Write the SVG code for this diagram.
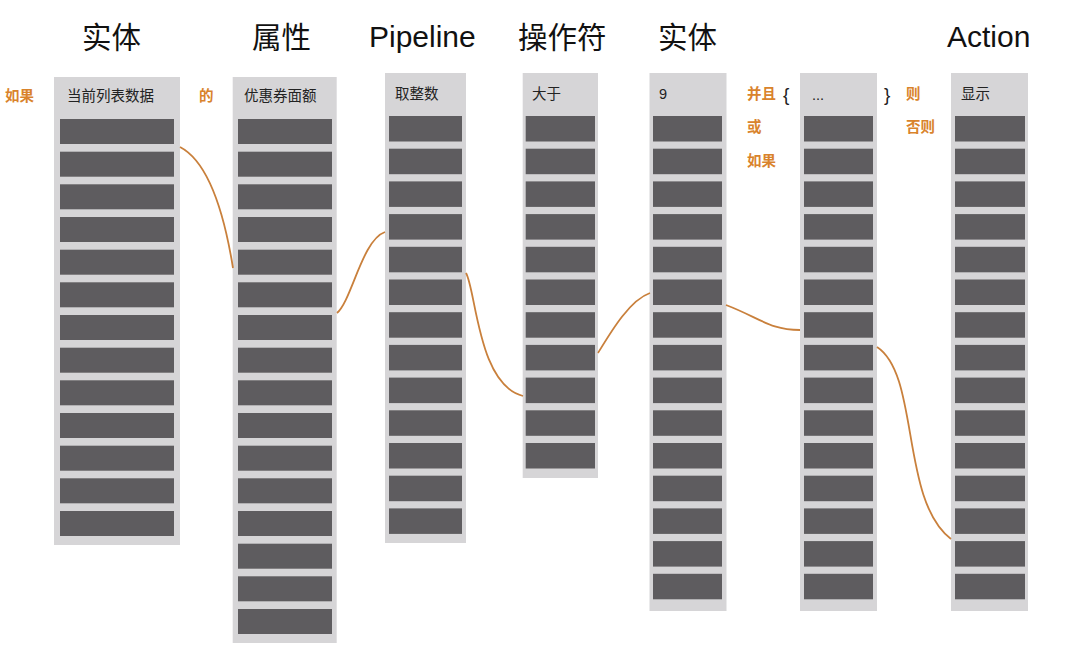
<svg xmlns="http://www.w3.org/2000/svg" width="1080" height="652" viewBox="0 0 1080 652">
<style>
text{font-family:"Liberation Sans","Noto Sans CJK SC",sans-serif;}
.title{font-size:29.5px;fill:#111;}
.lt{font-size:30px;}
.hd{font-size:14.5px;fill:#222;}
.kw{font-size:14.5px;fill:#d9832c;font-weight:bold;}
.br{font-size:19px;fill:#222;}
.col{fill:#d6d5d7;}
.bar{fill:#5e5c5f;}
.link{fill:none;stroke:#c9803c;stroke-width:1.8;}
</style>
<rect width="1080" height="652" fill="#ffffff"/>
<g id="titles">
<text class="title" x="82" y="48">实体</text>
<text class="title" x="252" y="48">属性</text>
<text class="title lt" x="369" y="47">Pipeline</text>
<text class="title" x="518" y="48">操作符</text>
<text class="title" x="658" y="48">实体</text>
<text class="title lt" x="947" y="47">Action</text>
</g>
<g id="keywords">
<text class="kw" x="5" y="101">如果</text>
<text class="kw" x="199" y="101">的</text>
<text class="kw" x="747" y="99">并且</text>
<text class="kw" x="747" y="132">或</text>
<text class="kw" x="747" y="166">如果</text>
<text class="br" x="783" y="101">{</text>
<text class="br" x="884" y="101">}</text>
<text class="kw" x="906" y="99">则</text>
<text class="kw" x="906" y="132">否则</text>
</g>
<g id="col-entity">
<rect class="col" x="54" y="77" width="126" height="468"/>
<text class="hd" x="67" y="101">当前列表数据</text>
<rect class="bar" x="60" y="119" width="114" height="25"/>
<rect class="bar" x="60" y="151.7" width="114" height="25"/>
<rect class="bar" x="60" y="184.3" width="114" height="25"/>
<rect class="bar" x="60" y="217" width="114" height="25"/>
<rect class="bar" x="60" y="249.7" width="114" height="25"/>
<rect class="bar" x="60" y="282.3" width="114" height="25"/>
<rect class="bar" x="60" y="315" width="114" height="25"/>
<rect class="bar" x="60" y="347.7" width="114" height="25"/>
<rect class="bar" x="60" y="380.3" width="114" height="25"/>
<rect class="bar" x="60" y="413" width="114" height="25"/>
<rect class="bar" x="60" y="445.7" width="114" height="25"/>
<rect class="bar" x="60" y="478.3" width="114" height="25"/>
<rect class="bar" x="60" y="511" width="114" height="25"/>
</g>
<g id="col-attribute">
<rect class="col" x="232.7" y="77" width="104" height="566"/>
<text class="hd" x="244" y="101">优惠券面额</text>
<rect class="bar" x="238" y="119" width="94" height="25"/>
<rect class="bar" x="238" y="151.7" width="94" height="25"/>
<rect class="bar" x="238" y="184.3" width="94" height="25"/>
<rect class="bar" x="238" y="217" width="94" height="25"/>
<rect class="bar" x="238" y="249.7" width="94" height="25"/>
<rect class="bar" x="238" y="282.3" width="94" height="25"/>
<rect class="bar" x="238" y="315" width="94" height="25"/>
<rect class="bar" x="238" y="347.7" width="94" height="25"/>
<rect class="bar" x="238" y="380.3" width="94" height="25"/>
<rect class="bar" x="238" y="413" width="94" height="25"/>
<rect class="bar" x="238" y="445.7" width="94" height="25"/>
<rect class="bar" x="238" y="478.3" width="94" height="25"/>
<rect class="bar" x="238" y="511" width="94" height="25"/>
<rect class="bar" x="238" y="543.7" width="94" height="25"/>
<rect class="bar" x="238" y="576.3" width="94" height="25"/>
<rect class="bar" x="238" y="609" width="94" height="25"/>
</g>
<g id="col-pipeline">
<rect class="col" x="385" y="73" width="81" height="470"/>
<text class="hd" x="395" y="99">取整数</text>
<rect class="bar" x="389" y="116" width="73" height="25.5"/>
<rect class="bar" x="389" y="148.7" width="73" height="25.5"/>
<rect class="bar" x="389" y="181.4" width="73" height="25.5"/>
<rect class="bar" x="389" y="214.1" width="73" height="25.5"/>
<rect class="bar" x="389" y="246.8" width="73" height="25.5"/>
<rect class="bar" x="389" y="279.5" width="73" height="25.5"/>
<rect class="bar" x="389" y="312.2" width="73" height="25.5"/>
<rect class="bar" x="389" y="344.9" width="73" height="25.5"/>
<rect class="bar" x="389" y="377.6" width="73" height="25.5"/>
<rect class="bar" x="389" y="410.3" width="73" height="25.5"/>
<rect class="bar" x="389" y="443" width="73" height="25.5"/>
<rect class="bar" x="389" y="475.7" width="73" height="25.5"/>
<rect class="bar" x="389" y="508.4" width="73" height="25.5"/>
</g>
<g id="col-operator">
<rect class="col" x="522.7" y="73" width="75.3" height="405"/>
<text class="hd" x="532" y="99">大于</text>
<rect class="bar" x="525.7" y="116" width="69.3" height="25.5"/>
<rect class="bar" x="525.7" y="148.7" width="69.3" height="25.5"/>
<rect class="bar" x="525.7" y="181.4" width="69.3" height="25.5"/>
<rect class="bar" x="525.7" y="214.1" width="69.3" height="25.5"/>
<rect class="bar" x="525.7" y="246.8" width="69.3" height="25.5"/>
<rect class="bar" x="525.7" y="279.5" width="69.3" height="25.5"/>
<rect class="bar" x="525.7" y="312.2" width="69.3" height="25.5"/>
<rect class="bar" x="525.7" y="344.9" width="69.3" height="25.5"/>
<rect class="bar" x="525.7" y="377.6" width="69.3" height="25.5"/>
<rect class="bar" x="525.7" y="410.3" width="69.3" height="25.5"/>
<rect class="bar" x="525.7" y="443" width="69.3" height="25.5"/>
</g>
<g id="col-value">
<rect class="col" x="649.5" y="73" width="77" height="538"/>
<text class="hd" x="659" y="99">9</text>
<rect class="bar" x="653" y="116" width="69" height="25.5"/>
<rect class="bar" x="653" y="148.7" width="69" height="25.5"/>
<rect class="bar" x="653" y="181.4" width="69" height="25.5"/>
<rect class="bar" x="653" y="214.1" width="69" height="25.5"/>
<rect class="bar" x="653" y="246.8" width="69" height="25.5"/>
<rect class="bar" x="653" y="279.5" width="69" height="25.5"/>
<rect class="bar" x="653" y="312.2" width="69" height="25.5"/>
<rect class="bar" x="653" y="344.9" width="69" height="25.5"/>
<rect class="bar" x="653" y="377.6" width="69" height="25.5"/>
<rect class="bar" x="653" y="410.3" width="69" height="25.5"/>
<rect class="bar" x="653" y="443" width="69" height="25.5"/>
<rect class="bar" x="653" y="475.7" width="69" height="25.5"/>
<rect class="bar" x="653" y="508.4" width="69" height="25.5"/>
<rect class="bar" x="653" y="541.1" width="69" height="25.5"/>
<rect class="bar" x="653" y="573.8" width="69" height="25.5"/>
</g>
<g id="col-more">
<rect class="col" x="800" y="73" width="77" height="538"/>
<text class="hd" x="812" y="100">...</text>
<rect class="bar" x="804" y="116" width="69" height="25.5"/>
<rect class="bar" x="804" y="148.7" width="69" height="25.5"/>
<rect class="bar" x="804" y="181.4" width="69" height="25.5"/>
<rect class="bar" x="804" y="214.1" width="69" height="25.5"/>
<rect class="bar" x="804" y="246.8" width="69" height="25.5"/>
<rect class="bar" x="804" y="279.5" width="69" height="25.5"/>
<rect class="bar" x="804" y="312.2" width="69" height="25.5"/>
<rect class="bar" x="804" y="344.9" width="69" height="25.5"/>
<rect class="bar" x="804" y="377.6" width="69" height="25.5"/>
<rect class="bar" x="804" y="410.3" width="69" height="25.5"/>
<rect class="bar" x="804" y="443" width="69" height="25.5"/>
<rect class="bar" x="804" y="475.7" width="69" height="25.5"/>
<rect class="bar" x="804" y="508.4" width="69" height="25.5"/>
<rect class="bar" x="804" y="541.1" width="69" height="25.5"/>
<rect class="bar" x="804" y="573.8" width="69" height="25.5"/>
</g>
<g id="col-action">
<rect class="col" x="951" y="73" width="77" height="538"/>
<text class="hd" x="961" y="99">显示</text>
<rect class="bar" x="955" y="116" width="70" height="25.5"/>
<rect class="bar" x="955" y="148.7" width="70" height="25.5"/>
<rect class="bar" x="955" y="181.4" width="70" height="25.5"/>
<rect class="bar" x="955" y="214.1" width="70" height="25.5"/>
<rect class="bar" x="955" y="246.8" width="70" height="25.5"/>
<rect class="bar" x="955" y="279.5" width="70" height="25.5"/>
<rect class="bar" x="955" y="312.2" width="70" height="25.5"/>
<rect class="bar" x="955" y="344.9" width="70" height="25.5"/>
<rect class="bar" x="955" y="377.6" width="70" height="25.5"/>
<rect class="bar" x="955" y="410.3" width="70" height="25.5"/>
<rect class="bar" x="955" y="443" width="70" height="25.5"/>
<rect class="bar" x="955" y="475.7" width="70" height="25.5"/>
<rect class="bar" x="955" y="508.4" width="70" height="25.5"/>
<rect class="bar" x="955" y="541.1" width="70" height="25.5"/>
<rect class="bar" x="955" y="573.8" width="70" height="25.5"/>
</g>
<g id="connectors">
<path class="link" d="M180,147 C205,160 222,200 233,268"/>
<path class="link" d="M337,313 C352,300 362,240 385,232"/>
<path class="link" d="M466,273 C476,290 478,385 523,396"/>
<path class="link" d="M598,353 C612,330 630,300 650,293"/>
<path class="link" d="M726,305 C760,318 770,330 800,330"/>
<path class="link" d="M877,347 C920,375 900,500 951,539"/>
</g>
</svg>
